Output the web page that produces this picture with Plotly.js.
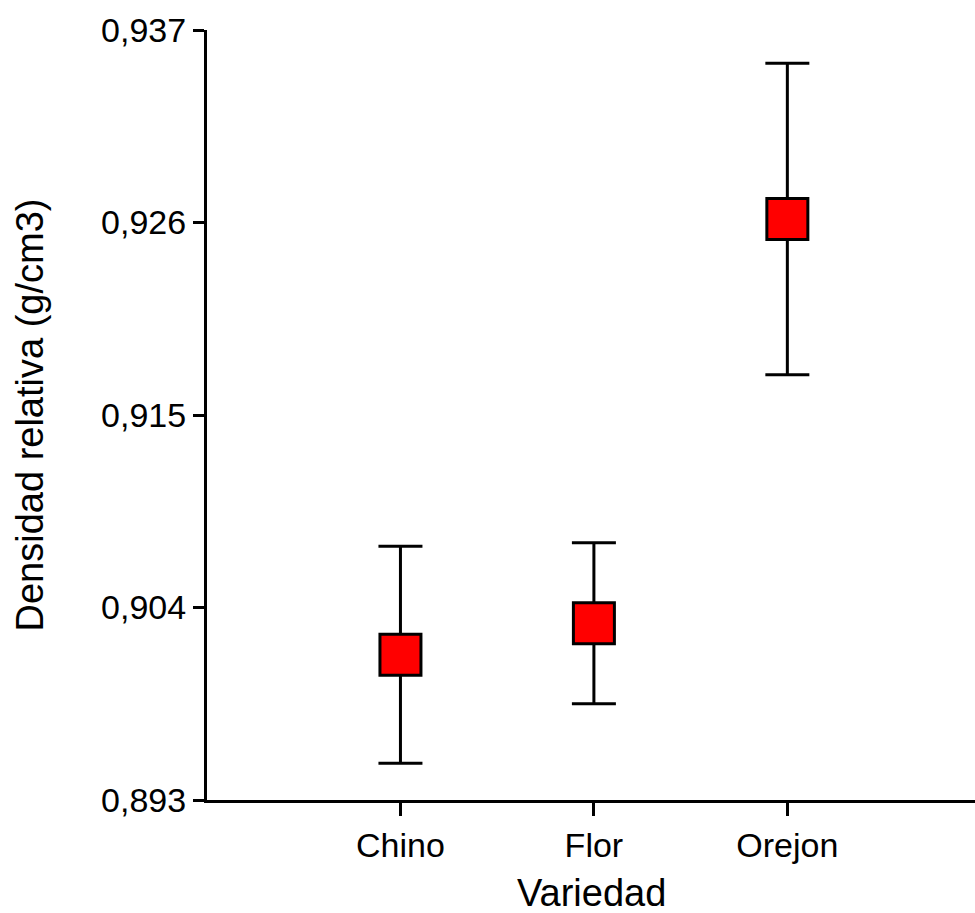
<!DOCTYPE html>
<html>
<head>
<meta charset="utf-8">
<script src="https://cdn.plot.ly/plotly-3.0.1.min.js"></script>
<style>html,body{margin:0;padding:0;background:#fff;}#chart{width:975px;height:913px;}</style>
</head>
<body>
<div id="chart"></div>
<script>
const categories = ['Chino', 'Flor', 'Orejon'];
const means = [0.9013, 0.9031, 0.9262];
const errors = [0.0062, 0.0046, 0.0089];
const yTicks = [0.893, 0.904, 0.915, 0.926, 0.937];
const yTitle = 'Densidad relativa (g/cm3)';
const xTitle = 'Variedad';

const trace = {
  type: 'scatter',
  mode: 'markers',
  x: categories,
  y: means,
  marker: {symbol: 'square', size: 41, color: '#ff0000', line: {color: '#000', width: 3}},
  error_y: {type: 'data', array: errors, visible: true, color: '#000', thickness: 3, width: 22},
  cliponaxis: false,
  hoverinfo: 'skip'
};

const font = {family: '"Liberation Sans", Arial, sans-serif', color: '#000'};

const layout = {
  width: 975, height: 913,
  margin: {l: 207, r: 0, t: 30, b: 113},
  paper_bgcolor: '#fff', plot_bgcolor: '#fff',
  separators: ',.',
  showlegend: false,
  font: font,
  xaxis: {
    type: 'category',
    range: [-1, 2.97],
    showgrid: false, zeroline: false,
    showline: true, linecolor: '#000', linewidth: 3,
    ticks: 'outside', ticklen: 13, tickwidth: 3, tickcolor: '#000',
    tickfont: {family: font.family, size: 34, color: '#000'}
  },
  yaxis: {
    range: [0.893, 0.937],
    tickmode: 'array', tickvals: yTicks, tickformat: '.3f',
    showgrid: false, zeroline: false,
    showline: true, linecolor: '#000', linewidth: 3,
    ticks: 'outside', ticklen: 11, tickwidth: 3, tickcolor: '#000',
    tickfont: {family: font.family, size: 34, color: '#000'},
    title: {text: yTitle, font: {family: font.family, size: 38, color: '#000'}, standoff: 46}
  },
  annotations: [{
    text: xTitle, xref: 'paper', yref: 'paper', x: 0.5, y: -0.121,
    xanchor: 'center', yanchor: 'middle', showarrow: false,
    font: {family: font.family, size: 38, color: '#000'}
  }]
};

Plotly.newPlot('chart', [trace], layout, {displayModeBar: false, staticPlot: true});
</script>
</body>
</html>
